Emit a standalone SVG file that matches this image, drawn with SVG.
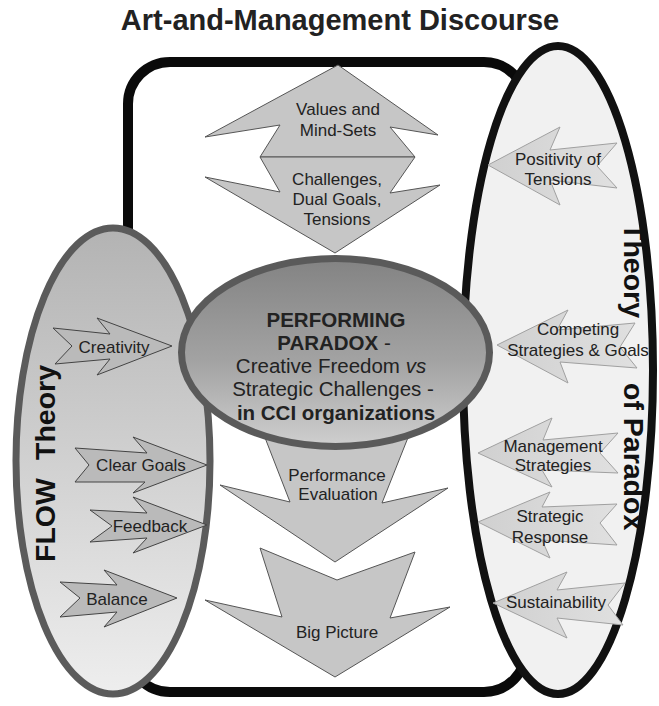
<svg xmlns="http://www.w3.org/2000/svg" width="659" height="706" viewBox="0 0 659 706">
<defs>
<linearGradient id="gLeft" x1="0" y1="0" x2="0" y2="1">
<stop offset="0" stop-color="#b3b3b3"/>
<stop offset="1" stop-color="#eeeeee"/>
</linearGradient>
<linearGradient id="gCenter" x1="0" y1="0" x2="0" y2="1">
<stop offset="0" stop-color="#838383"/>
<stop offset="0.55" stop-color="#a3a3a3"/>
<stop offset="1" stop-color="#cfcfcf"/>
</linearGradient>
<linearGradient id="gRightArrow" x1="0" y1="0" x2="1" y2="0">
<stop offset="0" stop-color="#d0d0d0"/>
<stop offset="1" stop-color="#e0e0e0"/>
</linearGradient>
</defs>
<style>
text{font-family:"Liberation Sans",Arial,sans-serif;fill:#222;}
.lbl{font-size:17px;text-anchor:middle;}
.ctr{font-size:20.5px;text-anchor:middle;}
.b{font-weight:bold;}
.rot{font-size:28.5px;font-weight:bold;fill:#111;}
.mid{fill:#c6c6c6;stroke:#555;stroke-width:1;stroke-linejoin:miter;}
.la{fill:#bababa;stroke:#444;stroke-width:1;}
.ra{fill:url(#gRightArrow);stroke:#a0a0a0;stroke-width:1;}
</style>

<g id="frame">
<rect x="128" y="62" width="398" height="630" rx="42" ry="42" fill="#ffffff" stroke="#0a0a0a" stroke-width="10"/>
</g>

<g id="paradox-theory">
<ellipse cx="558" cy="370" rx="95" ry="324" fill="#f1f1f1" stroke="#111" stroke-width="8"/>
<text class="rot" transform="translate(624,223) rotate(90)">Theory</text>
<text class="rot" transform="translate(624,383) rotate(90)">of Paradox</text>
</g>

<g id="flow-theory">
<ellipse cx="113" cy="461" rx="97" ry="233" fill="url(#gLeft)" stroke="#5b5b5b" stroke-width="7"/>
<text class="rot" transform="translate(55,562) rotate(-90)">FLOW</text>
<text class="rot" transform="translate(55,460) rotate(-90)">Theory</text>
</g>

<g id="connectors"></g>

<g id="values">
<polygon class="mid" points="338,65 438,135 390,127 415,157 260,157 280,125 205,137"/>
<text class="lbl" x="338" y="115">Values and</text>
<text class="lbl" x="338" y="136">Mind-Sets</text>
</g>

<g id="challenges">
<polygon class="mid" points="260,157 415,157 390,193 440,185 335,253 205,177 280,192"/>
<text class="lbl" x="337" y="185">Challenges,</text>
<text class="lbl" x="337" y="205">Dual Goals,</text>
<text class="lbl" x="337" y="225">Tensions</text>
</g>

<g id="performance-evaluation">
<polygon class="mid" points="262,430 411,430 382,503 448,488 335,562 220,485 290,502"/>
<text class="lbl" x="337" y="481">Performance</text>
<text class="lbl" x="338" y="500">Evaluation</text>
</g>

<g id="big-picture">
<polygon class="mid" points="260,548 337,580 415,552 390,618 450,607 335,677 205,600 282,617"/>
<text class="lbl" x="337" y="638">Big Picture</text>
</g>

<g id="creativity">
<polygon class="la" points="53,328 110,334 97,318 172,346 97,375 110,359 55,364 72,346"/>
<text class="lbl" x="114" y="353">Creativity</text>
</g>

<g id="clear-goals">
<polygon class="la" points="75,448 147,453 133,437 207,465 133,493 145,482 75,482 89,465"/>
<text class="lbl" x="141" y="471">Clear Goals</text>
</g>

<g id="feedback">
<polygon class="la" points="90,510 147,513 133,497 207,525 133,553 147,538 90,542 112,526"/>
<text class="lbl" x="150" y="532">Feedback</text>
</g>

<g id="balance">
<polygon class="la" points="60,582 117,585 104,570 177,598 104,627 117,612 60,617 80,598"/>
<text class="lbl" x="117" y="605">Balance</text>
</g>

<g id="positivity">
<polygon class="ra" points="488,165 560,127 550,150 617,143 597,166 617,188 550,180 560,205"/>
<text class="lbl" x="558" y="165">Positivity of</text>
<text class="lbl" x="558" y="185">Tensions</text>
</g>

<g id="competing">
<polygon class="ra" points="497,345 568,310 557,330 635,323 620,347 637,368 560,362 568,383"/>
<text class="lbl" x="578" y="335">Competing</text>
<text class="lbl" x="578" y="356">Strategies &amp; Goals</text>
</g>

<g id="management">
<polygon class="ra" points="478,453 552,418 543,440 618,433 600,453 618,473 542,470 552,487"/>
<text class="lbl" x="553" y="452">Management</text>
<text class="lbl" x="553" y="471">Strategies</text>
</g>

<g id="strategic-response">
<polygon class="ra" points="478,522 550,492 542,507 617,504 600,523 617,545 542,540 550,558"/>
<text class="lbl" x="550" y="522">Strategic</text>
<text class="lbl" x="550" y="543">Response</text>
</g>

<g id="sustainability">
<polygon class="ra" points="493,603 567,572 557,590 625,583 608,605 623,625 557,618 567,638"/>
<text class="lbl" x="556" y="608">Sustainability</text>
</g>

<g id="performing-paradox">
<ellipse cx="335.5" cy="352.5" rx="154" ry="94" fill="url(#gCenter)" stroke="#5a5a5a" stroke-width="7"/>
<text class="ctr b" x="336" y="327">PERFORMING</text>
<text class="ctr" x="334" y="350"><tspan class="b">PARADOX</tspan> -</text>
<text class="ctr" x="331" y="373">Creative Freedom <tspan font-style="italic">vs</tspan></text>
<text class="ctr" x="333" y="396">Strategic Challenges -</text>
<text class="ctr b" x="336" y="420">in CCI organizations</text>
</g>

<g id="title">
<text x="340" y="30" font-size="29" font-weight="bold" text-anchor="middle" fill="#111">Art-and-Management Discourse</text>
</g>
</svg>
